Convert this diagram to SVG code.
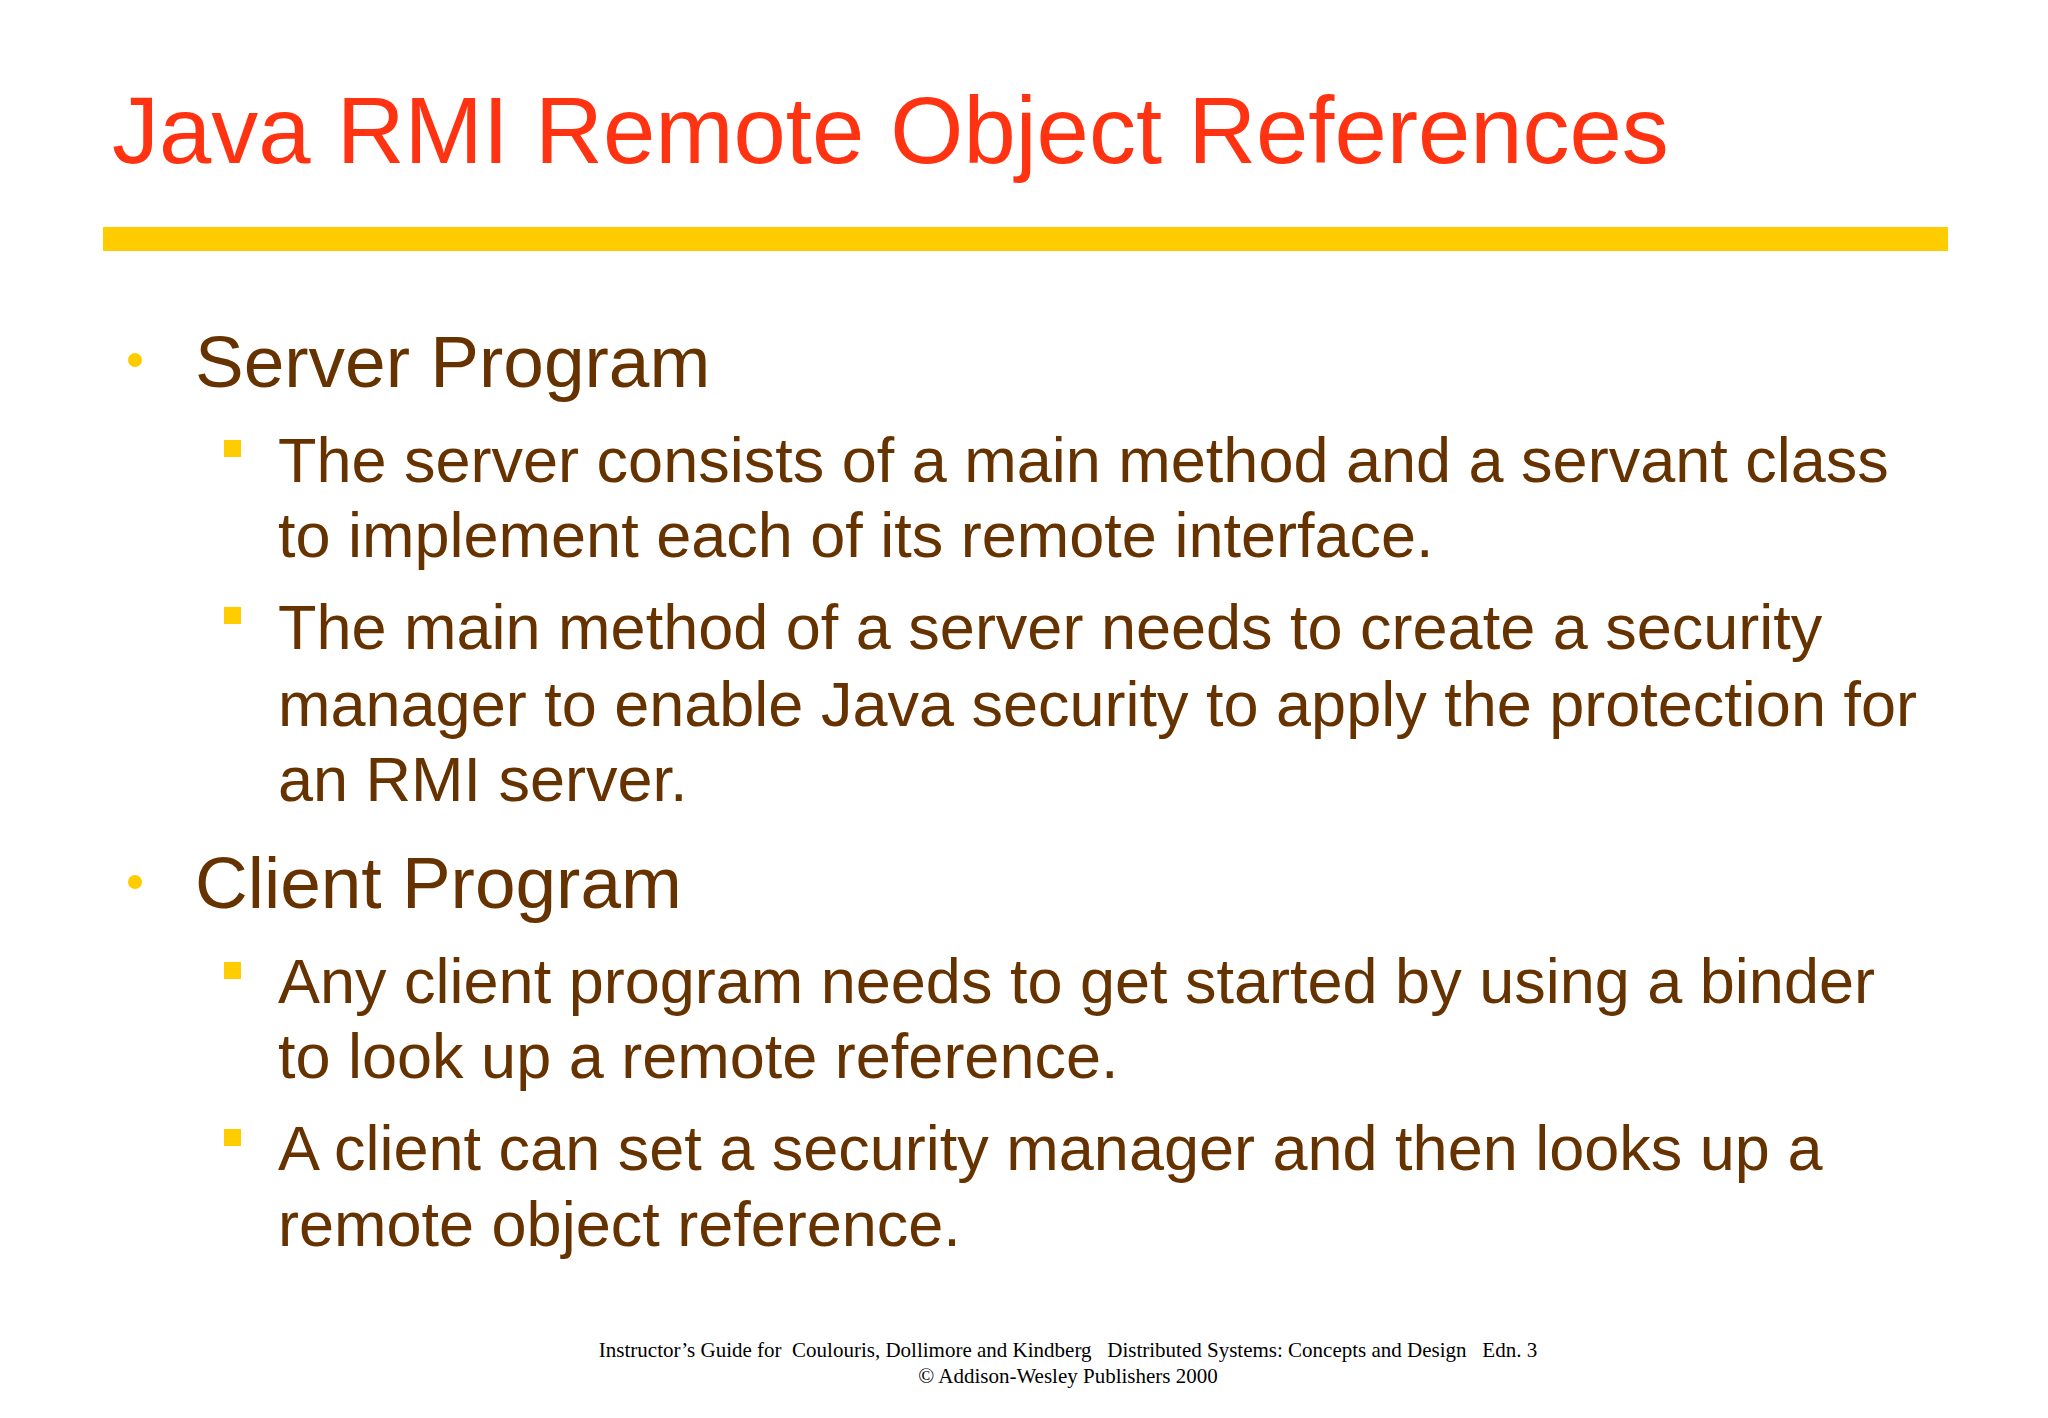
<svg xmlns="http://www.w3.org/2000/svg" width="2048" height="1418" viewBox="0 0 2048 1418">
<style>
.t{font-family:"Liberation Sans",Arial,sans-serif;fill:#663300}
.h{font-size:73px}
.s{font-size:63px}
.f{font-family:"Liberation Serif","Times New Roman",serif;font-size:21px;fill:#000;text-anchor:middle}
.sq{fill:#FFCC00}
</style>
<rect width="2048" height="1418" fill="#fff"/>
<g id="title">
<text x="112" y="163" font-family="Liberation Sans,Arial,sans-serif" font-size="94" fill="#FF3311">Java RMI Remote Object References</text>
<rect x="103" y="227" width="1845" height="24" fill="#FFCC00"/>
</g>
<g id="server">
<circle cx="135" cy="360" r="7" class="sq"/>
<text x="195" y="387" class="t h">Server Program</text>
<rect x="224" y="440" width="17" height="17" class="sq"/>
<text x="278" y="482" class="t s">The server consists of a main method and a servant class</text>
<text x="278" y="557" class="t s">to implement each of its remote interface.</text>
<rect x="224" y="607" width="17" height="17" class="sq"/>
<text x="278" y="649" class="t s">The main method of a server needs to create a security</text>
<text x="278" y="726" class="t s">manager to enable Java security to apply the protection for</text>
<text x="278" y="801" class="t s">an RMI server.</text>
</g>
<g id="client">
<circle cx="135" cy="882" r="7" class="sq"/>
<text x="195" y="908" class="t h">Client Program</text>
<rect x="224" y="962" width="17" height="17" class="sq"/>
<text x="278" y="1003" class="t s">Any client program needs to get started by using a binder</text>
<text x="278" y="1078" class="t s">to look up a remote reference.</text>
<rect x="224" y="1129" width="17" height="17" class="sq"/>
<text x="278" y="1170" class="t s">A client can set a security manager and then looks up a</text>
<text x="278" y="1246" class="t s">remote object reference.</text>
</g>
<g id="footer">
<text x="1068" y="1357" class="f" xml:space="preserve">Instructor’s Guide for  Coulouris, Dollimore and Kindberg   Distributed Systems: Concepts and Design   Edn. 3</text>
<text x="1068" y="1383" class="f">©  Addison-Wesley Publishers 2000</text>
</g>
</svg>
